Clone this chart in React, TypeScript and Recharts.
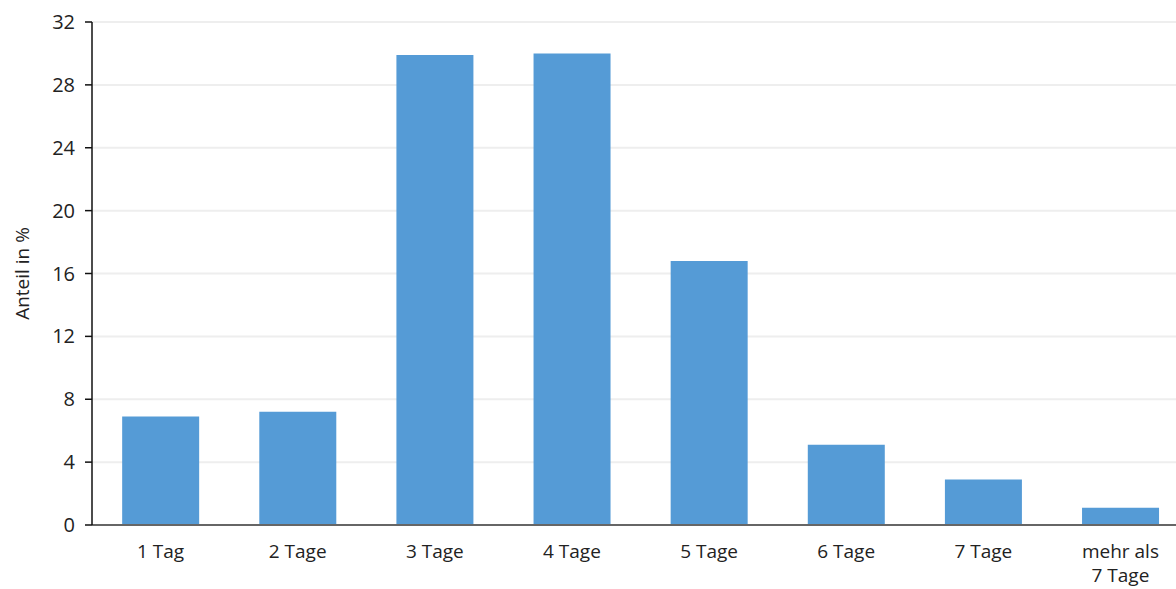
import { BarChart, Bar, XAxis, YAxis, CartesianGrid } from "recharts";

const categories = ["1 Tag", "2 Tage", "3 Tage", "4 Tage", "5 Tage", "6 Tage", "7 Tage", "mehr als\n7 Tage"];
const shares = [6.9, 7.2, 29.9, 30.0, 16.8, 5.1, 2.9, 1.1];
const yTicks = [0, 4, 8, 12, 16, 20, 24, 28, 32];

const data = categories.map((c, i) => ({ name: c, value: shares[i] }));

const FONT = "'Open Sans', 'Noto Sans', sans-serif";

function XTick(props: any) {
  const { x, y, payload } = props;
  const lines = String(payload.value).split("\n");
  return (
    <text x={x} y={y} textAnchor="middle" fill="#222" fontSize={19} fontFamily={FONT}>
      {lines.map((l, i) => (
        <tspan key={i} x={x} dy={i === 0 ? 25 : 24}>
          {l}
        </tspan>
      ))}
    </text>
  );
}

export default function App() {
  return (
    <div style={{ position: "absolute", left: 0, top: 0, width: 1176, height: 589, overflow: "hidden", background: "#fff" }}>
      <BarChart
        width={1189}
        height={589}
        data={data}
        margin={{ top: 22, right: 0, bottom: 0, left: 0 }}
        barCategoryGap="22%"
      >
        <CartesianGrid vertical={false} stroke="#eeeeee" strokeWidth={2} />
        <XAxis
          dataKey="name"
          tickLine={false}
          axisLine={{ stroke: "#666", strokeWidth: 2 }}
          tick={<XTick />}
          interval={0}
          height={64}
        />
        <YAxis
          width={92}
          domain={[0, 32]}
          ticks={yTicks}
          interval={0}
          axisLine={{ stroke: "#111", strokeWidth: 1.5 }}
          tickLine={{ stroke: "#111", strokeWidth: 1.5 }}
          tickSize={7}
          tickMargin={10}
          tick={{ fill: "#222", fontSize: 20, fontFamily: FONT }}
          label={{
            value: "Anteil in %",
            angle: -90,
            position: "insideLeft",
            offset: 22,
            style: { textAnchor: "middle", fill: "#222", fontSize: 19, fontFamily: FONT },
          }}
        />
        <Bar dataKey="value" fill="#559BD6" isAnimationActive={false} />
      </BarChart>
    </div>
  );
}
